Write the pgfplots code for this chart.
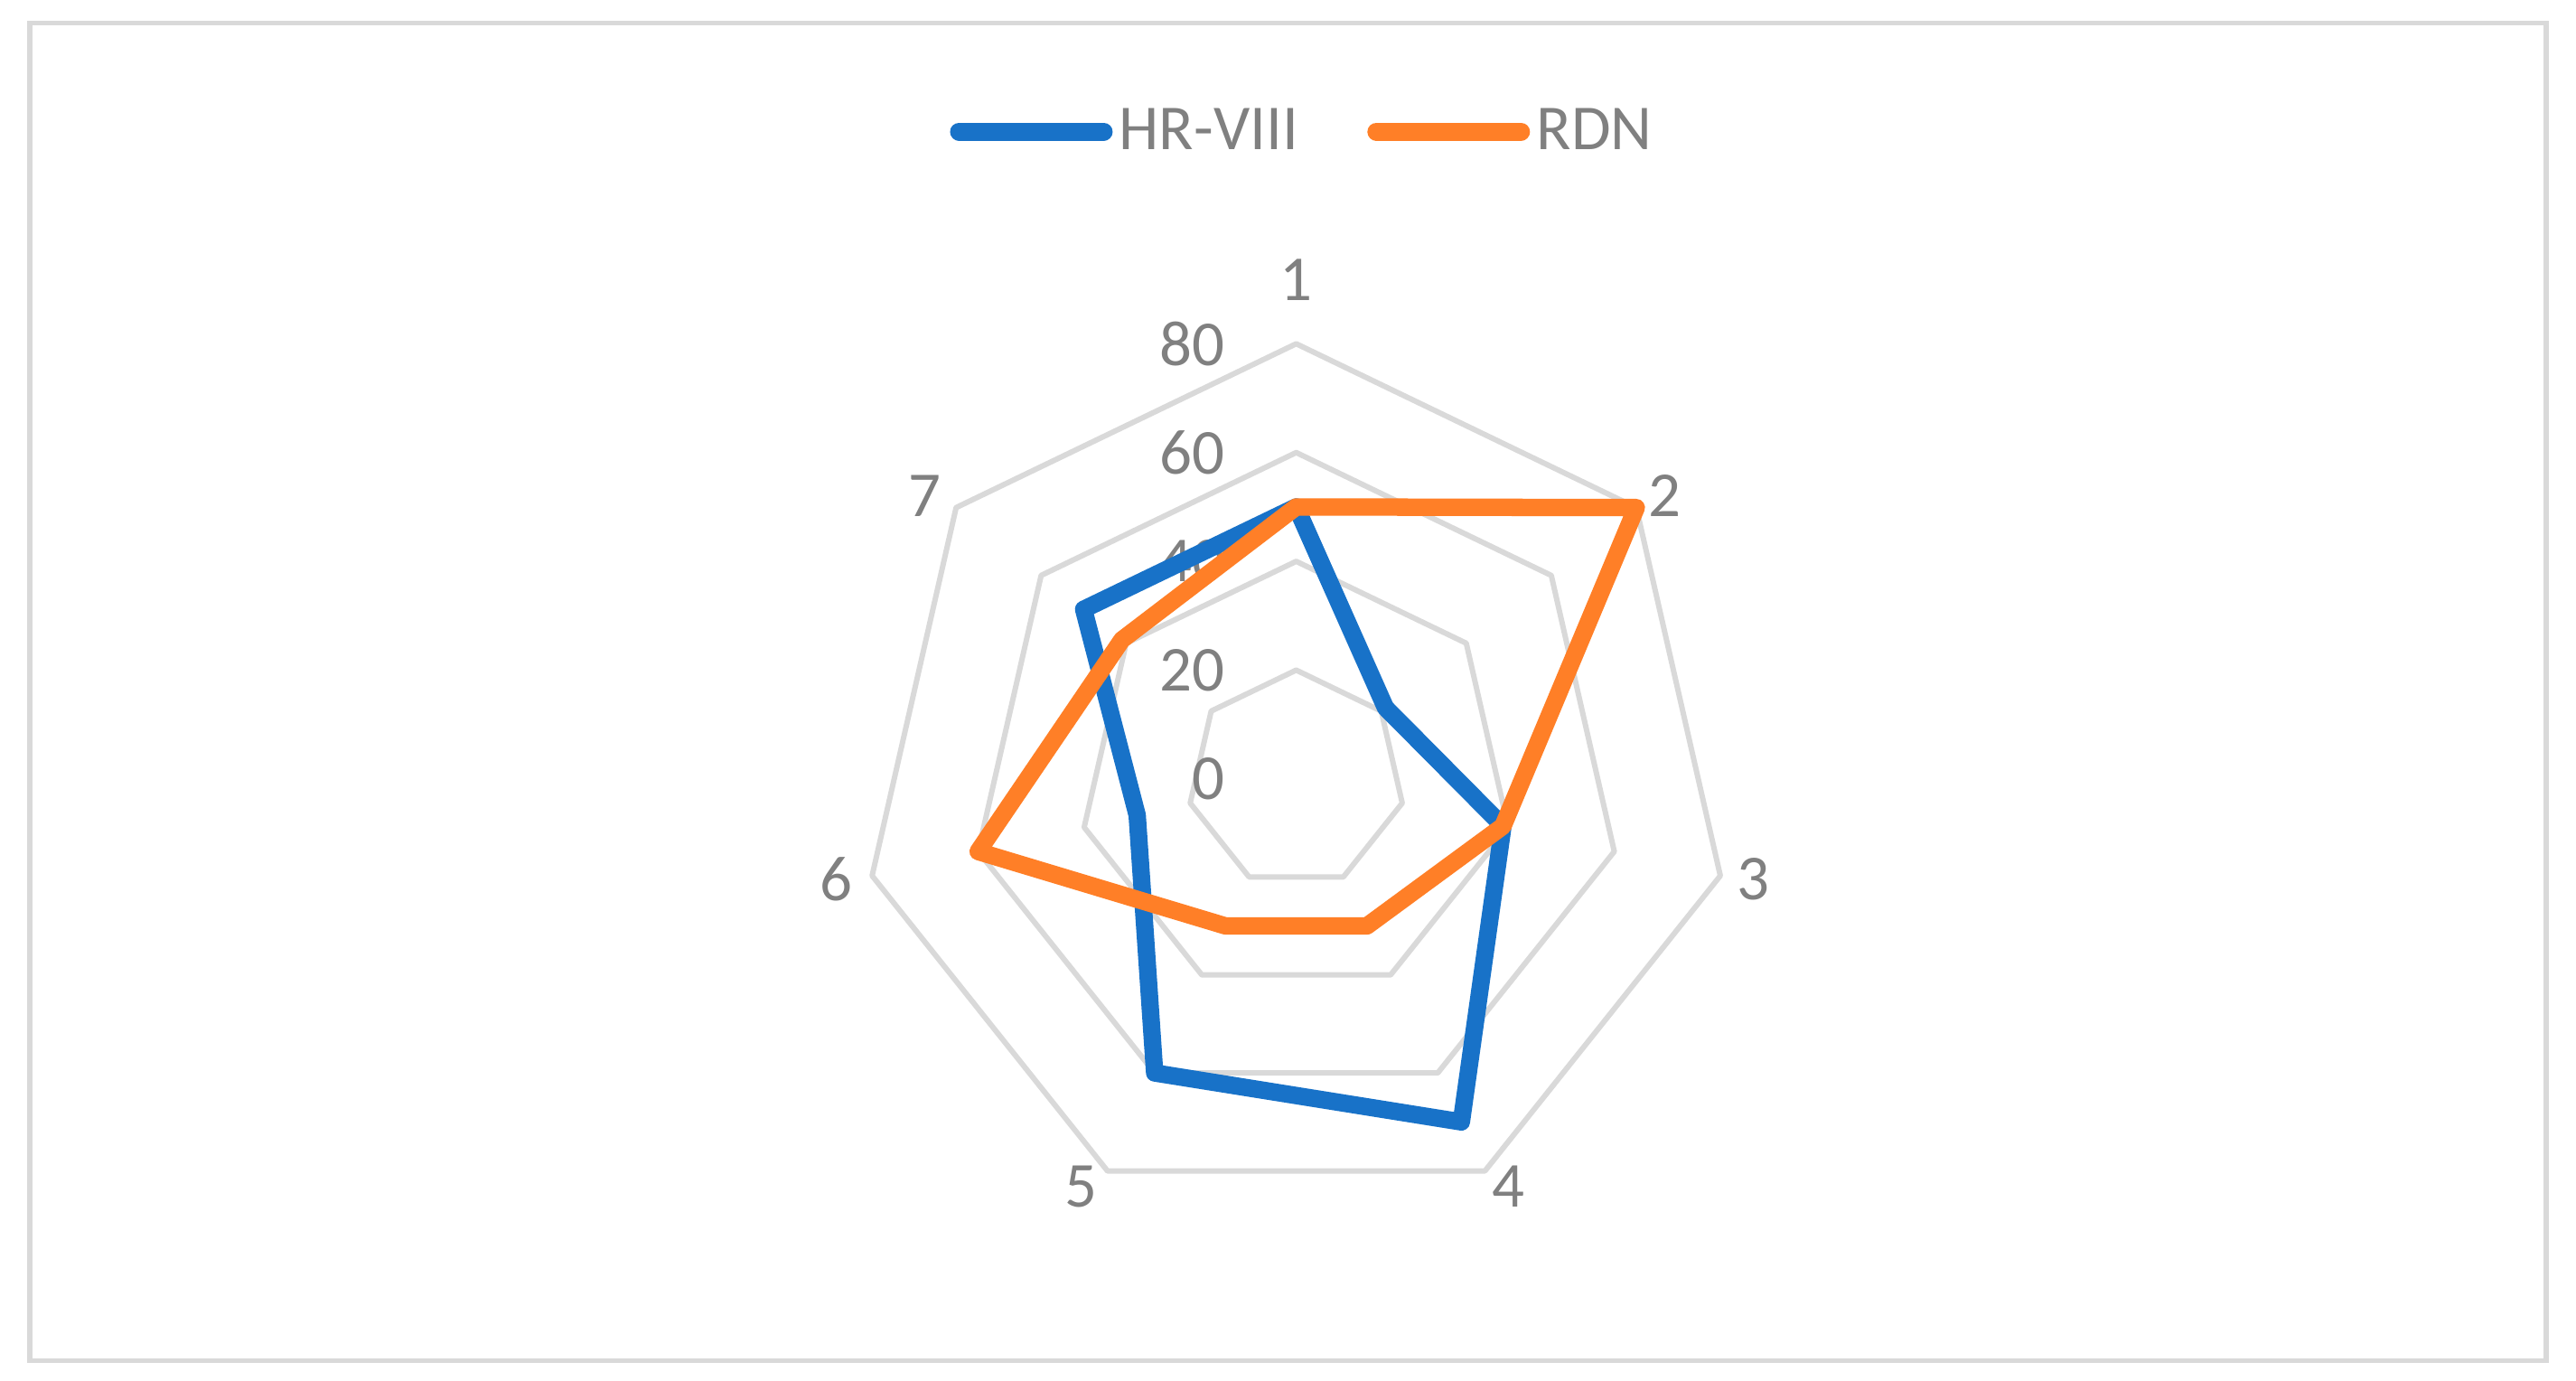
\documentclass[border=0pt]{standalone}
\usepackage{fontspec}
\setmainfont{Carlito}
\usepackage{pgfplots}
\pgfplotsset{compat=1.18}
\definecolor{hrblue}{HTML}{1872C8}
\definecolor{rdnorange}{HTML}{FF7F27}
\definecolor{gridgray}{HTML}{D9D9D9}
\definecolor{txtgray}{HTML}{808080}
\begin{document}
\begin{tikzpicture}
\begin{axis}[
  x=1.655pt, y=1.655pt,
  xmin=-238.37, xmax=235.35, ymin=-110.57, ymax=143.20,
  hide axis, clip=false,
  font=\fontsize{19.5}{23}\selectfont,
  legend columns=2,
  legend style={at={(axis cs:1.5,119)}, anchor=center, draw=none, fill=none,
    text=txtgray, font=\fontsize{19.5}{23}\selectfont,
    /tikz/every even column/.append style={column sep=19pt}},
  legend image code/.code={\draw[#1, line width=5.5pt, line cap=round] (0pt,0pt) -- (44pt,0pt);},
]
% frame
\draw[gridgray, line width=1.6pt] (axis cs:-232.93,-106.95) rectangle (axis cs:229.91,138.97);
% grid heptagons
\addplot[gridgray, line width=1.65pt, line join=round, line cap=round, data cs=polar, forget plot] coordinates {(90,20) (38.5714,20) (-12.8571,20) (-64.2857,20) (-115.7143,20) (-167.1429,20) (-218.5714,20) (90,20)};
\addplot[gridgray, line width=1.65pt, line join=round, line cap=round, data cs=polar, forget plot] coordinates {(90,40) (38.5714,40) (-12.8571,40) (-64.2857,40) (-115.7143,40) (-167.1429,40) (-218.5714,40) (90,40)};
\addplot[gridgray, line width=1.65pt, line join=round, line cap=round, data cs=polar, forget plot] coordinates {(90,60) (38.5714,60) (-12.8571,60) (-64.2857,60) (-115.7143,60) (-167.1429,60) (-218.5714,60) (90,60)};
\addplot[gridgray, line width=1.65pt, line join=round, line cap=round, data cs=polar, forget plot] coordinates {(90,80) (38.5714,80) (-12.8571,80) (-64.2857,80) (-115.7143,80) (-167.1429,80) (-218.5714,80) (90,80)};
% radial value labels
\node[anchor=east, text=txtgray, inner sep=0pt] at (axis cs:-13,0) {0};
\node[anchor=east, text=txtgray, inner sep=0pt] at (axis cs:-13,20) {20};
\node[anchor=east, text=txtgray, inner sep=0pt] at (axis cs:-13,40) {40};
\node[anchor=east, text=txtgray, inner sep=0pt] at (axis cs:-13,60) {60};
\node[anchor=east, text=txtgray, inner sep=0pt] at (axis cs:-13,80) {80};
% category labels
\node[text=txtgray, inner sep=0pt] at (axis cs:0,91.8) {1};
\node[text=txtgray, inner sep=0pt] at (axis cs:67.7,52) {2};
\node[text=txtgray, inner sep=0pt] at (axis cs:84,-18.4) {3};
\node[text=txtgray, inner sep=0pt] at (axis cs:39,-74.9) {4};
\node[text=txtgray, inner sep=0pt] at (axis cs:-39.6,-74.9) {5};
\node[text=txtgray, inner sep=0pt] at (axis cs:-84.6,-18.4) {6};
\node[text=txtgray, inner sep=0pt] at (axis cs:-68.3,52) {7};
% data
\addplot[hrblue, line width=5.3pt, line join=round, line cap=round, mark=none, data cs=polar] coordinates {(90,50) (38.5714,21) (-12.8571,39) (-64.2857,70) (-115.7143,60) (-167.1429,30) (-218.5714,50) (90,50)};
\addlegendentry{HR-VIII}
\addplot[rdnorange, line width=5.3pt, line join=round, line cap=round, mark=none, data cs=polar] coordinates {(90,50) (38.5714,80) (-12.8571,39) (-64.2857,30) (-115.7143,30) (-167.1429,60) (-218.5714,41) (90,50)};
\addlegendentry{RDN}
\end{axis}
\pgfresetboundingbox
\path (current axis.south west) rectangle (current axis.north east);
\end{tikzpicture}
\end{document}
